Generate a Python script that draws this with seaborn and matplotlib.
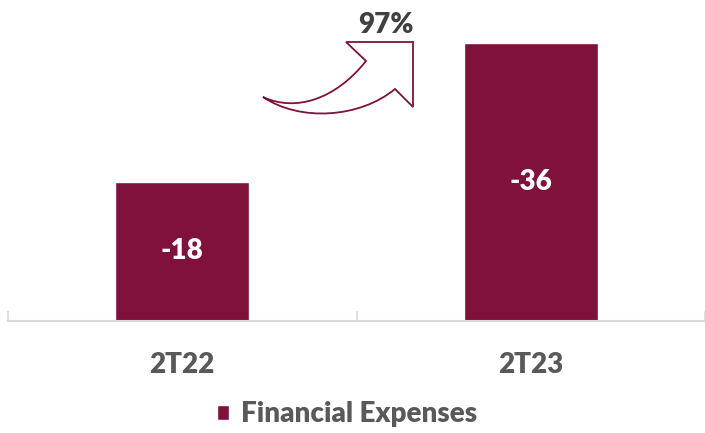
import pandas as pd
import matplotlib
matplotlib.use("Agg")
import matplotlib.pyplot as plt
import seaborn as sns
from matplotlib.path import Path
from matplotlib.patches import PathPatch

#chart data
periods = ['2T22', '2T23']
expenses = [-18, -36]
series_name = 'Financial Expenses'
growth_label = '97%'

bar_color = '#80103C'
text_grey = '#595959'
wt = 'heavy'

df = pd.DataFrame({'period': periods, 'value': expenses})
df['height'] = df['value'].abs()
df['series'] = series_name

sns.set_style('white')
plt.rcParams['font.family'] = ['Lato', 'DejaVu Sans']

fig = plt.figure(figsize=(7.05, 4.33), dpi=100)
ax = fig.add_axes([8/705, 1 - 321/433, 697/705, 308.9/433])

sns.barplot(data=df, x='period', y='height', hue='series', palette=[bar_color],
            width=0.385, dodge=False, ax=ax, saturation=1)

ax.bar_label(ax.containers[0], labels=[str(v) for v in expenses], label_type='center',
             color='white', fontsize=20, fontweight=wt)

ax.set_ylim(0, 40)
ax.set_xlim(-0.5, 1.5)
ax.set_xlabel('')
ax.set_ylabel('')
ax.set_yticks([])
for s in ['left', 'right', 'top']:
    ax.spines[s].set_visible(False)
ax.spines['bottom'].set_color('#d9d9d9')
ax.spines['bottom'].set_linewidth(1.5)

ax.tick_params(axis='x', which='major', length=0, pad=22, labelsize=20, labelcolor=text_grey)
for lbl in ax.get_xticklabels():
    lbl.set_fontweight(wt)
ax.set_xticks([-0.5, 0.5, 1.5], minor=True)
ax.tick_params(axis='x', which='minor', bottom=True, direction='in', length=7, width=1.2,
               color='#d9d9d9')

#legend at the bottom
handles, labels = ax.get_legend_handles_labels()
ax.legend(handles, labels, loc='center', bbox_to_anchor=(347/705, 1 - 414/433),
          bbox_transform=fig.transFigure, frameon=False, prop={'size': 20, 'weight': wt},
          handlelength=0.45, handleheight=0.45, handletextpad=0.42, labelcolor=text_grey)

#curved growth arrow (figure pixel coords)
def px(x, y):
    return (x / 705, 1 - y / 433)

verts = [px(263, 97),
         px(295, 112), px(335, 100), px(366, 61),
         px(346, 42), px(413, 42), px(413, 107), px(395, 89),
         px(360, 118), px(300, 122), px(263, 97),
         px(263, 97)]
codes = [Path.MOVETO,
         Path.CURVE4, Path.CURVE4, Path.CURVE4,
         Path.LINETO, Path.LINETO, Path.LINETO, Path.LINETO,
         Path.CURVE4, Path.CURVE4, Path.CURVE4,
         Path.CLOSEPOLY]
arrow = PathPatch(Path(verts, codes), facecolor='white', edgecolor=bar_color,
                  linewidth=1.3, transform=fig.transFigure, zorder=5)
fig.add_artist(arrow)
fig.text(386/705, 1 - 25/433, growth_label, ha='center', va='center', fontsize=20,
         fontweight=wt, color='#404040')

plt.savefig('out.png', dpi=100)
